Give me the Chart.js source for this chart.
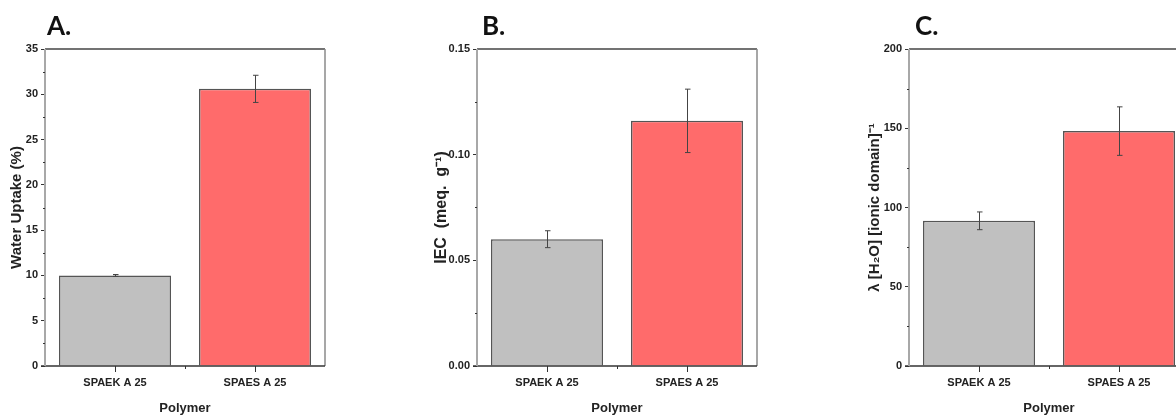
<!DOCTYPE html>
<html>
<head>
<meta charset="utf-8">
<script src="https://cdn.jsdelivr.net/npm/chart.js@4.4.1/dist/chart.umd.min.js"></script>
<style>
  html, body { margin: 0; padding: 0; background: #fff; overflow: hidden; width: 1176px; height: 415px; }
  canvas { position: absolute; top: 0; }
</style>
</head>
<body>
<canvas id="chartA" width="340" height="415" style="left:0px"></canvas>
<canvas id="chartB" width="380" height="415" style="left:400px"></canvas>
<canvas id="chartC" width="400" height="415" style="left:800px"></canvas>
<script>
// dados
const categorias = ["SPAEK A 25", "SPAES A 25"];
const waterUptake = [10.0, 30.6];
const waterUptakeErr = [0.1, 1.5];
const iec = [0.060, 0.116];
const iecErr = [0.004, 0.015];
const lambdaH2O = [91.6, 148.2];
const lambdaErr = [5.6, 15.3];
const letras = ["A.", "B.", "C."];
const yMaximos = [35, 0.15, 200];
const yPassos = [5, 0.05, 50];
const yTitulos = ["Water Uptake (%)", "IEC  (meq.  g\u207B\u00B9)", "\u03BB [H\u2082O] [ionic domain]\u207B\u00B9"];

const corBarras = ["#c0c0c0", "#ff6b6b"];
const fonteEstreita = '"Liberation Sans Narrow", "Liberation Sans", "DejaVu Sans", sans-serif';
const fonteTitulo = '"Liberation Sans", Arial, sans-serif';

// plugin: moldura, ticks do eixo x, ticks menores, barras de erro e letra do painel
const decoracao = {
  id: "decoracao",
  afterDatasetsDraw(chart, args, opts) {
    const ctx = chart.ctx;
    const area = chart.chartArea;
    const x = chart.scales.x;
    const y = chart.scales.y;

    // barras de erro
    const meta = chart.getDatasetMeta(0);
    const valores = chart.data.datasets[0].data;
    ctx.save();
    ctx.strokeStyle = "#444";
    ctx.lineWidth = 1;
    meta.data.forEach((bar, i) => {
      const v = valores[i];
      const e = opts.erros[i];
      const xp = Math.round(bar.x) + 0.5;
      const yTop = y.getPixelForValue(v + e);
      const yBot = y.getPixelForValue(v - e);
      ctx.beginPath();
      ctx.moveTo(xp, yTop);
      ctx.lineTo(xp, yBot);
      ctx.moveTo(xp - 2.5, yTop);
      ctx.lineTo(xp + 3, yTop);
      ctx.moveTo(xp - 2.5, yBot);
      ctx.lineTo(xp + 3, yBot);
      ctx.stroke();
    });

    // moldura
    ctx.lineWidth = 1.5;
    ctx.strokeStyle = "#444";
    ctx.beginPath();
    ctx.moveTo(area.left, area.top);
    ctx.lineTo(area.right, area.top);
    ctx.stroke();
    ctx.strokeStyle = "#8a8a8a";
    ctx.beginPath();
    ctx.moveTo(area.right, area.top);
    ctx.lineTo(area.right, area.bottom);
    ctx.stroke();
    ctx.strokeStyle = "#333";
    ctx.beginPath();
    ctx.moveTo(area.left - 4, area.bottom);
    ctx.lineTo(area.right, area.bottom);
    ctx.stroke();
    ctx.strokeStyle = "#a8a8a8";
    ctx.lineWidth = 2;
    ctx.beginPath();
    ctx.moveTo(area.left, area.top);
    ctx.lineTo(area.left, area.bottom);
    ctx.stroke();

    // ticks do eixo x
    ctx.strokeStyle = "#333";
    ctx.lineWidth = 1;
    categorias.forEach((c, i) => {
      const xp = Math.round(x.getPixelForValue(i)) + 0.5;
      ctx.beginPath();
      ctx.moveTo(xp, area.bottom);
      ctx.lineTo(xp, area.bottom + 6);
      ctx.stroke();
    });
    const meio = Math.round((x.getPixelForValue(0) + x.getPixelForValue(1)) / 2) + 0.5;
    ctx.beginPath();
    ctx.moveTo(meio, area.bottom);
    ctx.lineTo(meio, area.bottom + 3);
    ctx.stroke();

    // ticks menores do eixo y
    const passo = opts.passo;
    for (let v = passo / 2; v < y.max; v += passo) {
      const yp = Math.round(y.getPixelForValue(v)) + 0.5;
      ctx.beginPath();
      ctx.moveTo(area.left - 2, yp);
      ctx.lineTo(area.left, yp);
      ctx.stroke();
    }

    // letra do painel
    ctx.fillStyle = "#111";
    ctx.font = "bold 26px Lato, 'Open Sans', sans-serif";
    ctx.textBaseline = "alphabetic";
    ctx.textAlign = "left";
    ctx.fillText(opts.letra, area.left + opts.letraDx, 35);
    ctx.restore();
  }
};

function criarPainel(id, valores, erros, indice, eixoLargura, paddingDireita, tituloOffset, tituloTamanho, letraDx) {
  const ctx = document.getElementById(id).getContext("2d");
  return new Chart(ctx, {
    type: "bar",
    data: {
      labels: categorias,
      datasets: [
        {
          data: valores,
          backgroundColor: corBarras,
          borderColor: "#555",
          borderWidth: 1.5,
          barPercentage: 0.8,
          categoryPercentage: 1.0,
        },
      ],
    },
    options: {
      responsive: false,
      animation: false,
      layout: { padding: { top: 49, left: 0, right: paddingDireita, bottom: 0 } },
      plugins: {
        legend: { display: false },
        tooltip: { enabled: false },
        decoracao: { erros: erros, passo: yPassos[indice], letra: letras[indice], letraDx: letraDx },
      },
      scales: {
        x: {
          afterFit: (scale) => { scale.height = 49; },
          grid: { display: false, drawTicks: false },
          border: { display: false },
          ticks: {
            padding: 10,
            color: "#222",
            font: { family: fonteEstreita, size: 11, weight: "bold" },
          },
          title: {
            display: true,
            text: "Polymer",
            color: "#222",
            padding: { top: 0, bottom: 0 },
            font: { family: fonteEstreita, size: 13, weight: "bold", lineHeight: 1 },
          },
        },
        y: {
          min: 0,
          max: yMaximos[indice],
          afterFit: (scale) => { scale.width = eixoLargura; },
          grid: { drawOnChartArea: false, drawTicks: true, tickLength: 4, color: "#333" },
          border: { display: false },
          ticks: {
            stepSize: yPassos[indice],
            padding: 3,
            color: "#222",
            font: { family: fonteEstreita, size: 11, weight: "bold" },
            callback: (v) => (indice === 1 ? Number(v).toFixed(2) : v),
          },
          title: {
            display: true,
            text: yTitulos[indice],
            color: "#222",
            padding: { top: tituloOffset, bottom: 0 },
            font: { family: fonteTitulo, size: tituloTamanho, weight: "bold", lineHeight: 1 },
          },
        },
      },
    },
    plugins: [decoracao],
  });
}

criarPainel("chartA", waterUptake, waterUptakeErr, 0, 45, 15, 9.5, 15, 2);
criarPainel("chartB", iec, iecErr, 1, 77, 23, 34, 16, 5);
criarPainel("chartC", lambdaH2O, lambdaErr, 2, 109, 11, 67, 15, 6);
</script>
</body>
</html>
